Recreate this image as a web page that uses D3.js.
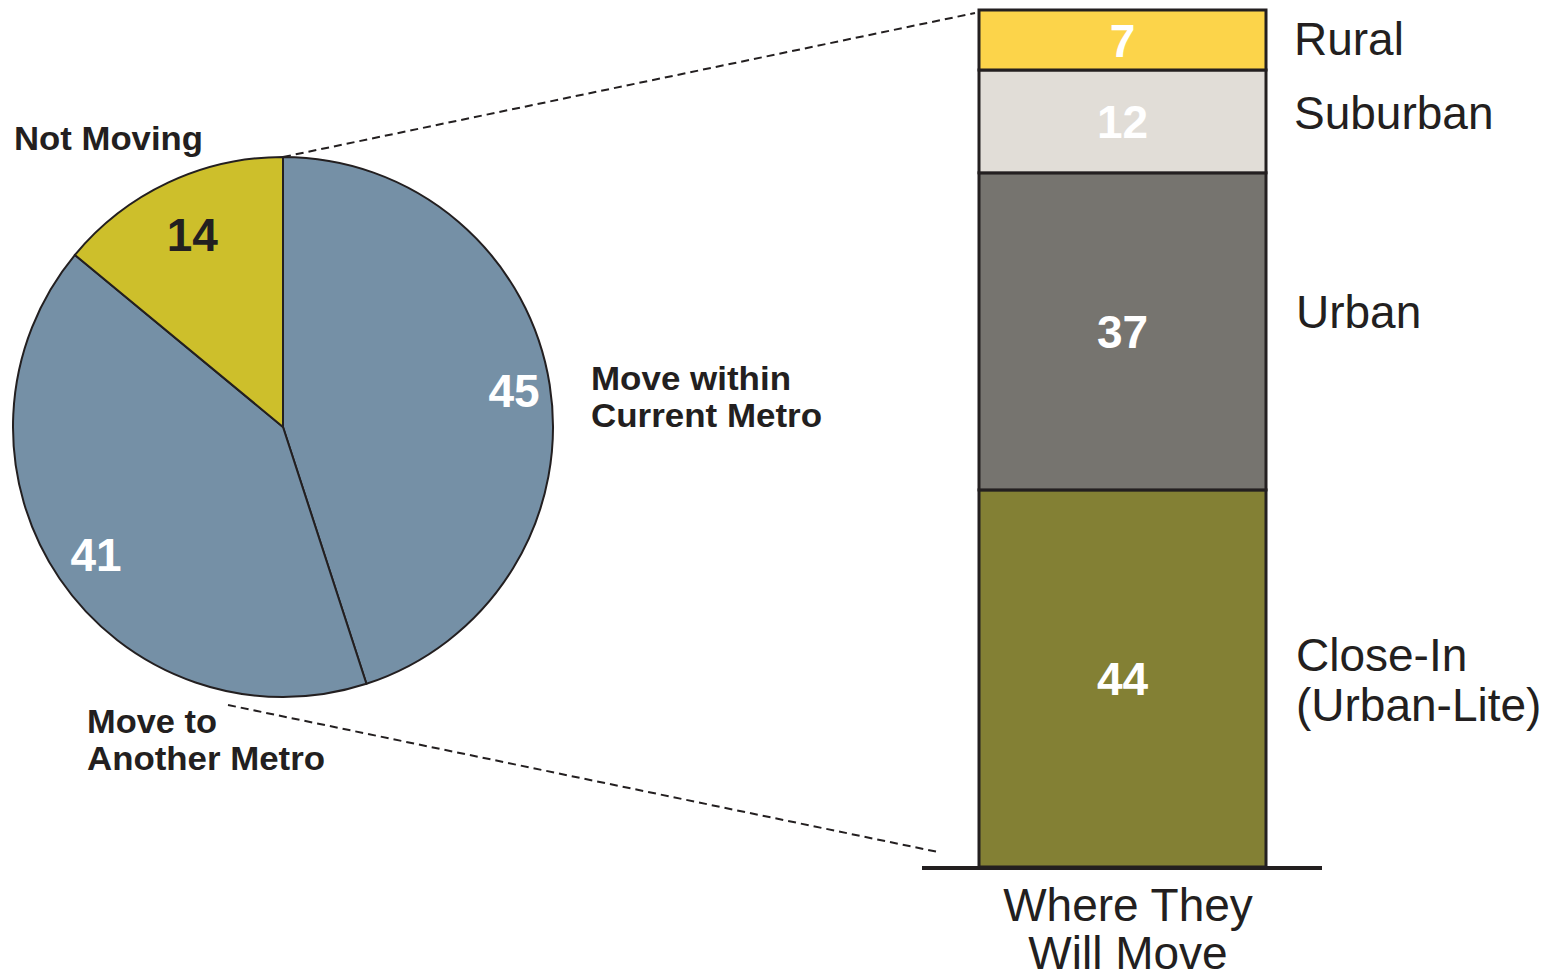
<!DOCTYPE html>
<html>
<head>
<meta charset="utf-8">
<script src="https://cdn.jsdelivr.net/npm/d3@7"></script>
<style>
  html, body { margin: 0; padding: 0; background: #ffffff; }
  svg { display: block; font-family: "Liberation Sans", Arial, Helvetica, sans-serif; }
</style>
</head>
<body>
<svg id="chart" width="1560" height="973"></svg>
<script>
// ---- Data ----
const pieCategories = ["Move within Current Metro", "Move to Another Metro", "Not Moving"];
const pieValues = [45, 41, 14];
const pieColors = ["#7590a6", "#7590a6", "#cdbf2b"];
const pieLabelColors = ["#ffffff", "#ffffff", "#231f20"];

const barCategories = ["Close-In (Urban-Lite)", "Urban", "Suburban", "Rural"];
const barValues = [44, 37, 12, 7];
const barColors = ["#838034", "#76746f", "#e1ddd7", "#fcd44a"];
const barAxisLabel = ["Where They", "Will Move"];

// ---- Layout ----
const ink = "#231f20";
const svg = d3.select("#chart");

// Pie
const cx = 283, cy = 427, R = 270;
const pieLabelRadius = [234, 226, 213];
const pie = d3.pie().sort(null).value(d => d)(pieValues);
const arc = d3.arc().innerRadius(0).outerRadius(R);

const gPie = svg.append("g").attr("transform", `translate(${cx},${cy})`);
gPie.selectAll("path.slice")
  .data(pie)
  .join("path")
  .attr("class", "slice")
  .attr("d", arc)
  .attr("fill", (d, i) => pieColors[i])
  .attr("stroke", ink)
  .attr("stroke-width", 2)
  .attr("stroke-linejoin", "round");

gPie.selectAll("text.val")
  .data(pie)
  .join("text")
  .attr("class", "val")
  .each(function (d, i) {
    const la = d3.arc().innerRadius(pieLabelRadius[i]).outerRadius(pieLabelRadius[i]);
    const c = la.centroid(d);
    d3.select(this).attr("x", c[0]).attr("y", c[1]);
  })
  .attr("dy", "0.36em")
  .attr("text-anchor", "middle")
  .attr("font-size", 46)
  .attr("font-weight", "bold")
  .attr("fill", (d, i) => pieLabelColors[i])
  .text(d => d.data);

// Pie category labels
const pieLabelLayout = [
  { lines: ["Move within", "Current Metro"], x: 591, y: 390, w: [200, 231] },
  { lines: ["Move to", "Another Metro"], x: 87, y: 733, w: [130, 238] },
  { lines: ["Not Moving"], x: 14, y: 150, w: [189] }
];
pieLabelLayout.forEach((L, i) => {
  L.lines.forEach((line, j) => {
    svg.append("text")
      .attr("x", L.x)
      .attr("y", L.y + j * 37)
      .attr("font-size", 33)
      .attr("font-weight", "bold")
      .attr("fill", ink)
      .attr("textLength", L.w[j])
      .attr("lengthAdjust", "spacingAndGlyphs")
      .text(line);
  });
});

// Stacked bar
const barX0 = 979, barX1 = 1266;
const y = d3.scaleLinear().domain([0, d3.sum(barValues)]).range([867, 10]);
let acc = 0;
const stacks = barValues.map((v, i) => {
  const s = { v, i, y0: acc, y1: acc + v };
  acc += v;
  return s;
});

const gBar = svg.append("g");
gBar.selectAll("rect")
  .data(stacks)
  .join("rect")
  .attr("x", barX0)
  .attr("width", barX1 - barX0)
  .attr("y", d => y(d.y1))
  .attr("height", d => y(d.y0) - y(d.y1))
  .attr("fill", d => barColors[d.i])
  .attr("stroke", ink)
  .attr("stroke-width", 3);

gBar.selectAll("text.val")
  .data(stacks)
  .join("text")
  .attr("class", "val")
  .attr("x", (barX0 + barX1) / 2)
  .attr("y", d => y((d.y0 + d.y1) / 2))
  .attr("dy", "0.36em")
  .attr("text-anchor", "middle")
  .attr("font-size", 46)
  .attr("font-weight", "bold")
  .attr("fill", "#ffffff")
  .text(d => d.v);

// Bar category labels
const barLabelLayout = [
  { lines: ["Close-In", "(Urban-Lite)"], dx: 30, dy: 18 },
  { lines: ["Urban"], dx: 30, dy: -3 },
  { lines: ["Suburban"], dx: 28, dy: 8 },
  { lines: ["Rural"], dx: 28, dy: 15 }
];
stacks.forEach((s, i) => {
  const L = barLabelLayout[i];
  const mid = y((s.y0 + s.y1) / 2);
  const n = L.lines.length;
  L.lines.forEach((line, j) => {
    svg.append("text")
      .attr("x", barX1 + L.dx)
      .attr("y", mid + L.dy + (j - (n - 1) / 2) * 50)
      .attr("font-size", 46)
      .attr("fill", ink)
      .text(line);
  });
});

// Baseline
svg.append("line")
  .attr("x1", 922).attr("x2", 1322)
  .attr("y1", y(0) + 1).attr("y2", y(0) + 1)
  .attr("stroke", ink)
  .attr("stroke-width", 4);

// Axis label
barAxisLabel.forEach((line, j) => {
  svg.append("text")
    .attr("x", 1128)
    .attr("y", 921 + j * 48)
    .attr("text-anchor", "middle")
    .attr("font-size", 46)
    .attr("fill", ink)
    .text(line);
});

// Dashed connector lines
svg.append("line")
  .attr("x1", cx).attr("y1", cy - R)
  .attr("x2", barX0 - 4).attr("y2", y(100) + 3)
  .attr("stroke", ink).attr("stroke-width", 2)
  .attr("stroke-dasharray", "8,5");
svg.append("line")
  .attr("x1", 228).attr("y1", 705)
  .attr("x2", 938).attr("y2", 852)
  .attr("stroke", ink).attr("stroke-width", 2)
  .attr("stroke-dasharray", "8,5");
</script>
</body>
</html>
